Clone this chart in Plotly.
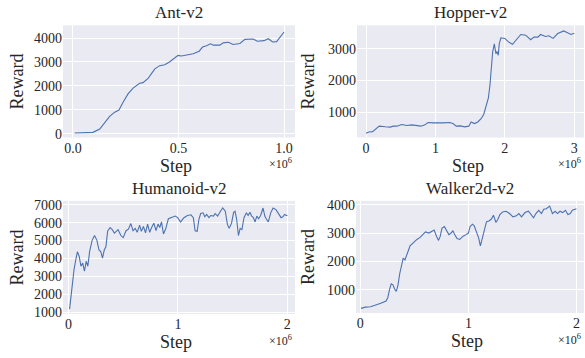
import plotly.graph_objects as go

# ---------------- data ----------------
ant_x = [0.008, 0.095, 0.127, 0.15, 0.174, 0.198, 0.218, 0.237, 0.261, 0.285, 0.316, 0.332, 0.356, 0.372,
         0.388, 0.411, 0.435, 0.459, 0.483, 0.498, 0.514, 0.538, 0.570, 0.598, 0.614, 0.633, 0.652, 0.665,
         0.696, 0.712, 0.736, 0.759, 0.791, 0.815, 0.854, 0.873, 0.905, 0.926, 0.946, 0.965, 0.984, 1.0]
ant_y = [27, 54, 190, 430, 725, 900, 990, 1300, 1665, 1905, 2107, 2134, 2310, 2510,
         2711, 2846, 2886, 3007, 3195, 3275, 3248, 3302, 3342, 3450, 3624, 3678, 3758, 3705,
         3705, 3799, 3826, 3732, 3772, 3946, 3960, 3866, 3893, 3973, 3839, 3852, 4054, 4255]

hop_x = [0, 0.04, 0.095, 0.143, 0.19, 0.276, 0.348, 0.395, 0.443, 0.514, 0.59, 0.66, 0.73, 0.79, 0.848,
         0.895, 0.967, 1.04, 1.11, 1.205, 1.252, 1.3, 1.362, 1.419, 1.48, 1.514, 1.562, 1.61, 1.657, 1.695,
         1.719, 1.743, 1.762, 1.786, 1.805, 1.824, 1.848, 1.871, 1.886, 1.905, 1.919, 1.943, 2.0, 2.048,
         2.11, 2.171, 2.229, 2.3, 2.371, 2.419, 2.476, 2.514, 2.586, 2.633, 2.695, 2.762, 2.848, 2.895,
         2.952, 3.0]
hop_y = [333, 374, 385, 487, 559, 538, 528, 559, 559, 610, 579, 600, 590, 559, 600,
         672, 662, 651, 662, 672, 641, 559, 569, 538, 559, 692, 641, 692, 795, 928,
         1133, 1359, 1441, 1872, 2385, 2897, 3154, 2846, 2918, 2795, 3154, 3349, 3328, 3226,
         3144, 3287, 3451, 3431, 3287, 3369, 3369, 3451, 3390, 3410, 3328, 3482, 3564, 3513,
         3451, 3492]

hum_x = [0.01, 0.032, 0.051, 0.067, 0.082, 0.098, 0.114, 0.13, 0.146, 0.162, 0.177, 0.193, 0.216, 0.238,
         0.26, 0.279, 0.295, 0.311, 0.327, 0.342, 0.358, 0.38, 0.4, 0.42, 0.453, 0.479, 0.5, 0.526, 0.548,
         0.57, 0.59, 0.61, 0.628, 0.65, 0.666, 0.685, 0.704, 0.723, 0.742, 0.76, 0.78, 0.8, 0.818, 0.834,
         0.85, 0.868, 0.888, 0.913, 0.945, 0.976, 0.998, 1.024, 1.055, 1.087, 1.119, 1.141, 1.157, 1.176,
         1.192, 1.208, 1.23, 1.246, 1.262, 1.284, 1.3, 1.325, 1.341, 1.363, 1.389, 1.41, 1.433, 1.452,
         1.468, 1.49, 1.509, 1.522, 1.537, 1.553, 1.569, 1.585, 1.604, 1.626, 1.642, 1.658, 1.674, 1.69,
         1.705, 1.721, 1.737, 1.756, 1.778, 1.794, 1.807, 1.826, 1.848, 1.87, 1.896, 1.921, 1.943, 1.959,
         1.975, 1.991, 2.0]
hum_y = [1160, 2390, 3380, 3930, 4380, 4110, 3560, 3740, 3290, 3840, 3560, 4380, 5010, 5280,
         5010, 4470, 4380, 4020, 4470, 4650, 5520, 5730, 5610, 5410, 5610, 5280, 5160, 5550, 5640,
         5950, 5550, 5680, 5460, 5860, 5520, 5790, 5430, 5920, 5460, 5730, 5970, 5550, 5920, 5730,
         6040, 5370, 5640, 6220, 6280, 6370, 6280, 6040, 6280, 6400, 6440, 6280, 5550, 5520,
         6190, 6510, 6550, 6330, 6460, 6280, 6400, 6370, 6510, 6370, 6640, 6820, 6640, 5920,
         5680, 5970, 6580, 6640, 6190, 5280, 5680, 5610, 6280, 6550, 6400, 6580, 6370, 6280,
         6040, 6370, 6220, 6400, 6820, 6370, 6220, 6040, 6550, 6820, 6730, 6460, 6280, 6330,
         6460, 6400, 6400]

wal_x = [0.006, 0.048, 0.095, 0.143, 0.19, 0.238, 0.254, 0.27, 0.286, 0.302, 0.317, 0.333, 0.349, 0.365,
         0.381, 0.397, 0.413, 0.429, 0.444, 0.46, 0.476, 0.502, 0.524, 0.556, 0.578, 0.603, 0.635, 0.667,
         0.683, 0.705, 0.724, 0.74, 0.756, 0.778, 0.8, 0.819, 0.841, 0.857, 0.873, 0.895, 0.92, 0.952,
         0.978, 1.0, 1.016, 1.038, 1.054, 1.073, 1.095, 1.111, 1.127, 1.149, 1.168, 1.19, 1.213, 1.232,
         1.254, 1.27, 1.292, 1.317, 1.349, 1.381, 1.413, 1.444, 1.467, 1.492, 1.524, 1.556, 1.581, 1.603,
         1.625, 1.651, 1.676, 1.698, 1.721, 1.752, 1.778, 1.803, 1.825, 1.848, 1.873, 1.898, 1.921, 1.943,
         1.962, 1.984, 2.0]
wal_y = [335, 380, 392, 450, 518, 598, 713, 1000, 1205, 1170, 1020, 940, 1170, 1570,
         1915, 2110, 2050, 2260, 2375, 2545, 2600, 2717, 2775, 2855, 2945, 3038, 3000, 3060,
         3107, 2890, 2740, 2890, 3175, 3233, 3060, 2945, 3000, 3084, 2945, 2810, 2775, 2890,
         2945, 3000, 3233, 3313, 3255, 3060, 2830, 2545, 2775, 3175, 3404, 3427, 3496, 3633,
         3381, 3462, 3656, 3748, 3771, 3690, 3576, 3610, 3690, 3576, 3725, 3771, 3656, 3542,
         3690, 3805, 3690, 3840, 3862, 3954, 3690, 3771, 3690, 3771, 3725, 3805, 3656, 3690,
         3805, 3840, 3862]

titles = ["Ant-v2", "Hopper-v2", "Humanoid-v2", "Walker2d-v2"]
xticks = [[0, 0.5, 1.0], [0, 1, 2, 3], [0, 1, 2], [0, 1, 2]]
xticktext = [["0.0", "0.5", "1.0"], ["0", "1", "2", "3"], ["0", "1", "2"], ["0", "1", "2"]]
yticks = [[0, 1000, 2000, 3000, 4000], [1000, 2000, 3000],
          [1000, 2000, 3000, 4000, 5000, 6000, 7000], [1000, 2000, 3000, 4000]]
series = [(ant_x, ant_y), (hop_x, hop_y), (hum_x, hum_y), (wal_x, wal_y)]

# ---------------- layout ----------------
W, H = 585, 358
FONT = "Liberation Serif"
TXT = "#262626"
LINE = "#4c72b0"
BG = "#eaeaf2"

# plot-area pixel boxes (left, right, top, bottom)
boxes = [(63, 295, 23, 138), (357, 584, 23, 138), (63, 295, 203, 319), (356, 584, 203, 318)]
xranges = [[-0.047, 1.052], [-0.13, 3.14], [-0.05, 2.07], [-0.04, 2.07]]
yranges = [[-163, 4530], [200, 3738], [891, 7218], [172, 4138]]

fig = go.Figure()
layout = dict(width=W, height=H, margin=dict(l=0, r=0, t=0, b=0),
              paper_bgcolor="white", plot_bgcolor=BG, showlegend=False,
              font=dict(family=FONT, color=TXT, size=14))
annotations = []

for i, ((xs, ys), box, title) in enumerate(zip(series, boxes, titles)):
    n = "" if i == 0 else str(i + 1)
    l, r, t, b = box
    fig.add_trace(go.Scatter(x=xs, y=ys, mode="lines", line=dict(color=LINE, width=1.1),
                             xaxis="x" + n, yaxis="y" + n, hoverinfo="skip"))
    layout["xaxis" + n] = dict(domain=[l / W, r / W], anchor="y" + n, range=xranges[i],
                               tickvals=xticks[i], ticktext=xticktext[i],
                               showgrid=True, gridcolor="white", gridwidth=1.2,
                               zeroline=False, showline=False, ticks="",
                               tickfont=dict(size=14, family=FONT, color=TXT))
    layout["yaxis" + n] = dict(domain=[1 - b / H, 1 - t / H], anchor="x" + n, range=yranges[i],
                               tickvals=yticks[i],
                               showgrid=True, gridcolor="white", gridwidth=1.2,
                               zeroline=False, showline=False, ticks="",
                               tickfont=dict(size=14, family=FONT, color=TXT))
    cx = (l + r) / 2
    annotations.append(dict(text=title, x=cx / W, y=1 - (t - 1) / H, xref="paper", yref="paper",
                            xanchor="center", yanchor="bottom", showarrow=False,
                            font=dict(size=17, family=FONT, color=TXT)))
    annotations.append(dict(text="Step", x=(cx - 3) / W, y=1 - (b + 29) / H, xref="paper", yref="paper",
                            xanchor="center", yanchor="middle", showarrow=False,
                            font=dict(size=18, family=FONT, color=TXT)))
    annotations.append(dict(text="×10<sup>6</sup>", x=(r - 1) / W, y=1 - (b + 27) / H,
                            xref="paper", yref="paper", xanchor="right", yanchor="middle",
                            showarrow=False, font=dict(size=12, family=FONT, color=TXT)))
    rx = 17 if l < 200 else 308
    annotations.append(dict(text="Reward", x=rx / W, y=1 - ((t + b) / 2) / H, xref="paper", yref="paper",
                            xanchor="center", yanchor="middle", textangle=-90, showarrow=False,
                            font=dict(size=18, family=FONT, color=TXT)))

layout["annotations"] = annotations
fig.update_layout(**layout)
fig.write_html("out.html")
